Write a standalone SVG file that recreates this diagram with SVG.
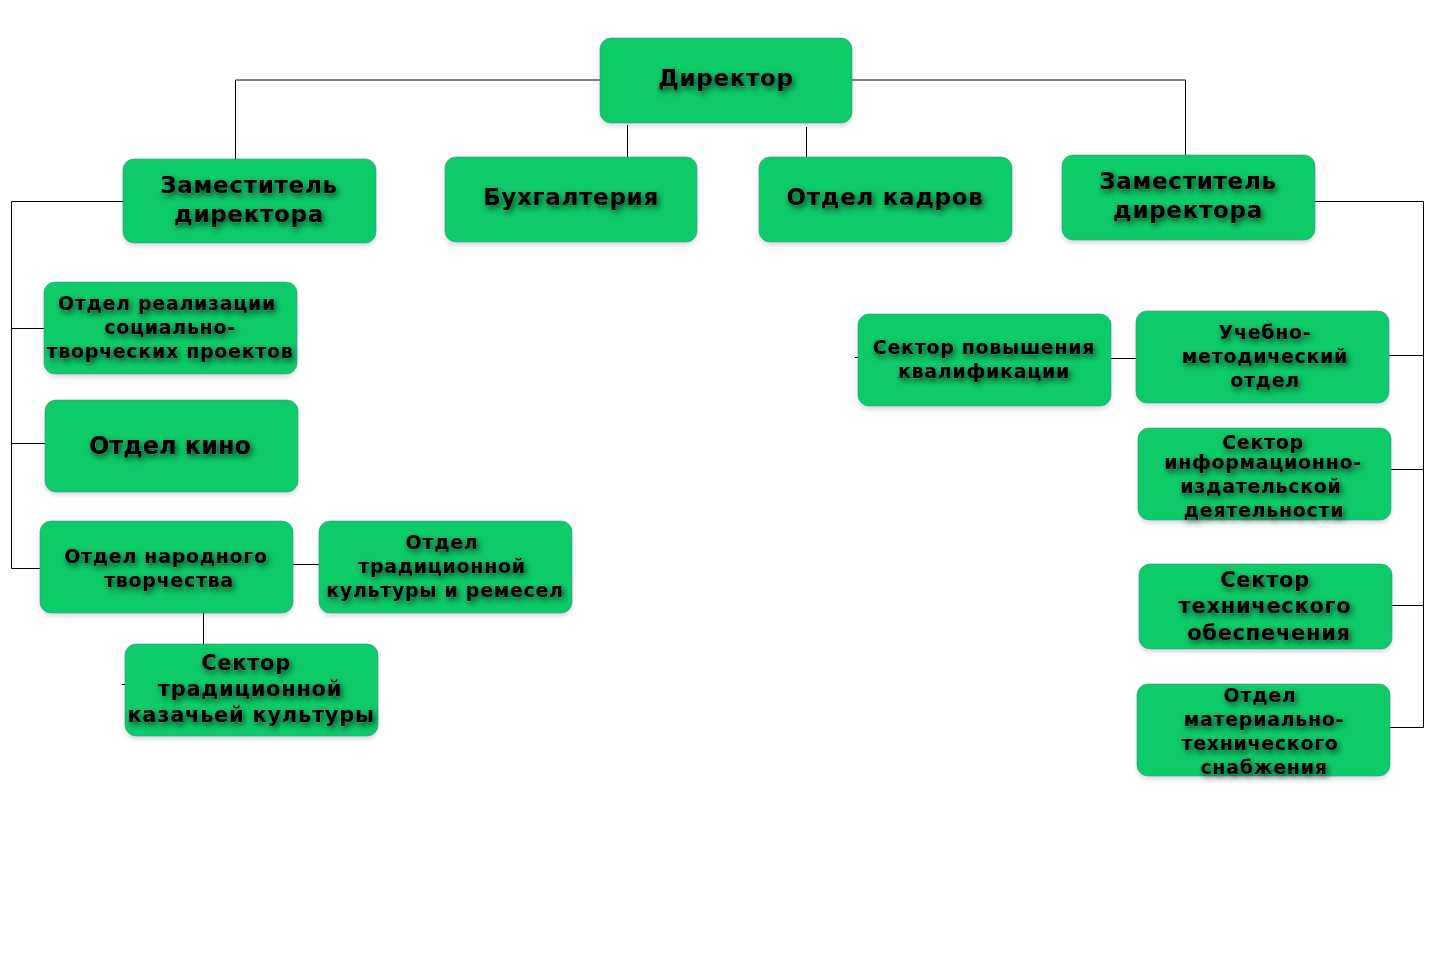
<svg xmlns="http://www.w3.org/2000/svg" width="1450" height="964" viewBox="0 0 1450 964">
<defs>
<filter id="ts" x="-20%" y="-40%" width="140%" height="180%">
<feGaussianBlur in="SourceAlpha" stdDeviation="3"/>
<feOffset dx="2" dy="3" result="b"/>
<feComponentTransfer><feFuncA type="linear" slope="0.65"/></feComponentTransfer>
<feMerge><feMergeNode/><feMergeNode in="SourceGraphic"/></feMerge>
</filter>
<filter id="bs" x="-10%" y="-10%" width="120%" height="130%">
<feGaussianBlur in="SourceAlpha" stdDeviation="2"/>
<feOffset dx="0" dy="3"/>
<feComponentTransfer><feFuncA type="linear" slope="0.15"/></feComponentTransfer>
<feMerge><feMergeNode/><feMergeNode in="SourceGraphic"/></feMerge>
</filter>
</defs>
<style>
.box{fill:#0ecb69;stroke:#3d8fa0;stroke-width:1;stroke-opacity:0.6;filter:url(#bs)}
.t{font-family:"DejaVu Sans","Liberation Sans",sans-serif;font-weight:bold;fill:#000;text-anchor:middle;letter-spacing:0.7px;stroke:#777;stroke-width:0.5;stroke-opacity:0.6;paint-order:stroke;filter:url(#ts)}
.c{stroke:#000;stroke-width:1;fill:none}
</style>
<rect width="1450" height="964" fill="#fff"/>
<g id="connectors">
<polyline class="c" points="600,80 235.5,80 235.5,159"/>
<polyline class="c" points="852,80 1185.5,80 1185.5,155"/>
<line class="c" x1="627.5" y1="125" x2="627.5" y2="157"/>
<line class="c" x1="806.5" y1="127" x2="806.5" y2="157"/>
<polyline class="c" points="123,201.5 11.5,201.5 11.5,568.5 40,568.5"/>
<line class="c" x1="11.5" y1="328.5" x2="44" y2="328.5"/>
<line class="c" x1="11.5" y1="443.5" x2="45" y2="443.5"/>
<line class="c" x1="293" y1="564.5" x2="319" y2="564.5"/>
<line class="c" x1="203.5" y1="613" x2="203.5" y2="644"/>
<line class="c" x1="122" y1="684.5" x2="125" y2="684.5"/>
<polyline class="c" points="1315,201.5 1423.5,201.5 1423.5,727.5 1390,727.5"/>
<line class="c" x1="1389" y1="355.5" x2="1423.5" y2="355.5"/>
<line class="c" x1="1391" y1="469.5" x2="1423.5" y2="469.5"/>
<line class="c" x1="1392" y1="605.5" x2="1423.5" y2="605.5"/>
<line class="c" x1="1111" y1="358.5" x2="1136" y2="358.5"/>
<line class="c" x1="855" y1="357.5" x2="858" y2="357.5"/>
</g>
<g id="n-director"><rect class="box" x="600" y="38" width="252" height="85" rx="11"/><text class="t" x="726" y="86" font-size="23">Директор</text></g>
<g id="n-zam1"><rect class="box" x="123" y="159" width="253" height="84" rx="11"/><text class="t" font-size="23"><tspan x="249" y="193">Заместитель</tspan><tspan x="249" y="222">директора</tspan></text></g>
<g id="n-buh"><rect class="box" x="445" y="157" width="252" height="85" rx="11"/><text class="t" x="571" y="205" font-size="23">Бухгалтерия</text></g>
<g id="n-kadr"><rect class="box" x="759" y="157" width="253" height="85" rx="11"/><text class="t" x="885" y="205" font-size="23">Отдел кадров</text></g>
<g id="n-zam2"><rect class="box" x="1062" y="155" width="253" height="85" rx="11"/><text class="t" font-size="23"><tspan x="1188" y="189">Заместитель</tspan><tspan x="1188" y="218">директора</tspan></text></g>
<g id="n-real"><rect class="box" x="44" y="282" width="253" height="92" rx="11"/><text class="t" font-size="19"><tspan x="167" y="310">Отдел реализации</tspan><tspan x="170" y="334">социально-</tspan><tspan x="170" y="358">творческих проектов</tspan></text></g>
<g id="n-kino"><rect class="box" x="45" y="400" width="253" height="92" rx="11"/><text class="t" x="170" y="454" font-size="24" style="letter-spacing:0">Отдел кино</text></g>
<g id="n-narod"><rect class="box" x="40" y="521" width="253" height="92" rx="11"/><text class="t" font-size="19"><tspan x="166" y="563">Отдел народного</tspan><tspan x="169" y="587">творчества</tspan></text></g>
<g id="n-trad"><rect class="box" x="319" y="521" width="253" height="92" rx="11"/><text class="t" font-size="19"><tspan x="442" y="549">Отдел</tspan><tspan x="442" y="573">традиционной</tspan><tspan x="445" y="597">культуры и ремесел</tspan></text></g>
<g id="n-kaz"><rect class="box" x="125" y="644" width="253" height="92" rx="11"/><text class="t" font-size="21"><tspan x="246" y="670">Сектор</tspan><tspan x="250" y="696">традиционной</tspan><tspan x="251" y="722">казачьей культуры</tspan></text></g>
<g id="n-pov"><rect class="box" x="858" y="314" width="253" height="92" rx="11"/><text class="t" font-size="19"><tspan x="984" y="354">Сектор повышения</tspan><tspan x="984" y="378">квалификации</tspan></text></g>
<g id="n-uch"><rect class="box" x="1136" y="311" width="253" height="92" rx="11"/><text class="t" font-size="19"><tspan x="1265" y="339">Учебно-</tspan><tspan x="1265" y="363">методический</tspan><tspan x="1265" y="387">отдел</tspan></text></g>
<g id="n-inf"><rect class="box" x="1138" y="428" width="253" height="92" rx="11"/><text class="t" font-size="19"><tspan x="1263" y="449">Сектор</tspan><tspan x="1263" y="469">информационно-</tspan><tspan x="1261" y="493">издательской</tspan><tspan x="1264" y="517">деятельности</tspan></text></g>
<g id="n-tech"><rect class="box" x="1139" y="564" width="253" height="85" rx="11"/><text class="t" font-size="21"><tspan x="1265" y="587">Сектор</tspan><tspan x="1265" y="613">технического</tspan><tspan x="1269" y="640">обеспечения</tspan></text></g>
<g id="n-mat"><rect class="box" x="1137" y="684" width="253" height="92" rx="11"/><text class="t" font-size="19"><tspan x="1260" y="702">Отдел</tspan><tspan x="1264" y="726">материально-</tspan><tspan x="1260" y="750">технического</tspan><tspan x="1264" y="774">снабжения</tspan></text></g>
</svg>
